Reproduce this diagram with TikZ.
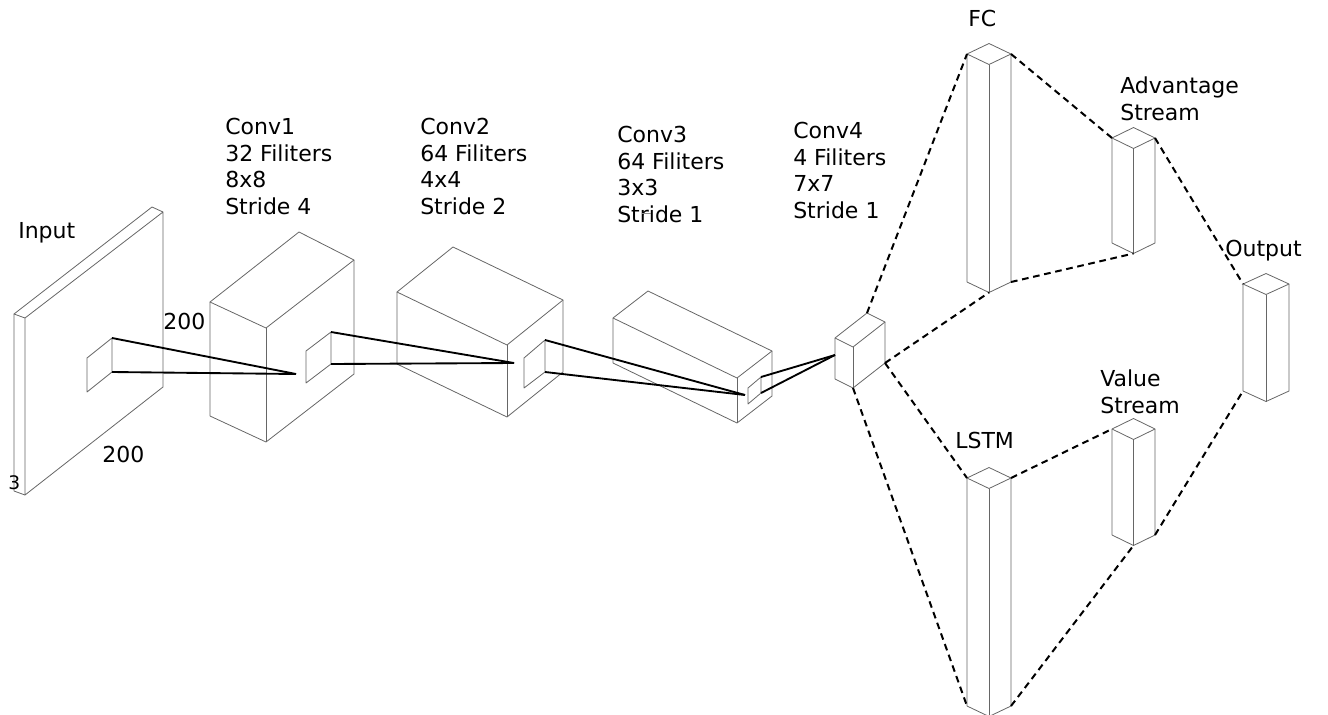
\documentclass[tikz,border=0pt]{standalone}
\usepackage{fontspec}
\setmainfont{DejaVu Sans}
\newcommand{\mycol}[5]{% name, x, y, height, width
  \coordinate (#1-tl) at (#2,#3);
  \coordinate (#1-tb) at ({#2+#5/2},{#3-10.5});
  \coordinate (#1-tr) at ({#2+#5},#3);
  \coordinate (#1-tf) at ({#2+#5/2},{#3+10.5});
  \coordinate (#1-bl) at (#2,{#3+#4});
  \coordinate (#1-bf) at ({#2+#5/2},{#3+#4+10.5});
  \coordinate (#1-br) at ({#2+#5},{#3+#4});
  \draw[box] (#1-tl) -- (#1-tb) -- (#1-tr) -- (#1-tf) -- cycle;
  \draw[box] (#1-tl) -- (#1-bl) -- (#1-bf) -- (#1-br) -- (#1-tr);
  \draw[box] (#1-tf) -- (#1-bf);
}
\begin{document}
\begin{tikzpicture}[x=0.75pt,y=-0.75pt,
  box/.style={draw=black!60, line width=0.6pt, line join=round},
  conn/.style={draw=black, line width=1.4pt},
  dconn/.style={draw=black, line width=1.5pt, dash pattern=on 5pt off 3.5pt},
  lab/.style={anchor=north west, inner sep=0pt, align=left, font=\fontsize{16.5}{20}\selectfont}]
\useasboundingbox (0,0) rectangle (1328,714);

% ---------- Input slab ----------
\coordinate (in-f1) at (25,318);
\coordinate (in-f2) at (163,212);
\coordinate (in-f3) at (163,387);
\coordinate (in-f4) at (25,495);
\coordinate (in-b1) at (14,314);
\coordinate (in-b2) at (152,207);
\coordinate (in-b4) at (14,491);
\draw[box] (in-f1) -- (in-f2) -- (in-f3) -- (in-f4) -- cycle;
\draw[box] (in-f1) -- (in-b1) -- (in-b2) -- (in-f2);
\draw[box] (in-b1) -- (in-b4) -- (in-f4);
% patch on input
\coordinate (p1) at (87,358);
\coordinate (p2) at (112,338);
\coordinate (p3) at (112,372);
\coordinate (p4) at (87,392);
\draw[box] (p1) -- (p2) -- (p3) -- (p4) -- cycle;

% ---------- Conv1 ----------
\coordinate (c1-a) at (210,302);
\coordinate (c1-b) at (266,328);
\coordinate (c1-c) at (354,260);
\coordinate (c1-d) at (299,232);
\coordinate (c1-a2) at (210,416);
\coordinate (c1-b2) at (266,442);
\coordinate (c1-c2) at (354,374);
\draw[box] (c1-a) -- (c1-b) -- (c1-c) -- (c1-d) -- cycle;
\draw[box] (c1-a) -- (c1-a2) -- (c1-b2) -- (c1-c2) -- (c1-c);
\draw[box] (c1-b) -- (c1-b2);
\coordinate (q1) at (306,351);
\coordinate (q2) at (331,332);
\coordinate (q3) at (331,364);
\coordinate (q4) at (306,383);
\draw[box] (q1) -- (q2) -- (q3) -- (q4) -- cycle;
\coordinate (x1) at (296,374);

% ---------- Conv2 ----------
\coordinate (c2-a) at (397,292);
\coordinate (c2-b) at (507,345);
\coordinate (c2-c) at (563,300);
\coordinate (c2-d) at (453,247);
\coordinate (c2-a2) at (397,364);
\coordinate (c2-b2) at (507,417);
\coordinate (c2-c2) at (563,372);
\draw[box] (c2-a) -- (c2-b) -- (c2-c) -- (c2-d) -- cycle;
\draw[box] (c2-a) -- (c2-a2) -- (c2-b2) -- (c2-c2) -- (c2-c);
\draw[box] (c2-b) -- (c2-b2);
\coordinate (r1) at (524,358);
\coordinate (r2) at (545,340);
\coordinate (r3) at (545,372);
\coordinate (r4) at (524,388);
\draw[box] (r1) -- (r2) -- (r3) -- (r4) -- cycle;
\coordinate (x2) at (514,363);

% ---------- Conv3 ----------
\coordinate (c3-a) at (613,318);
\coordinate (c3-b) at (737,378);
\coordinate (c3-c) at (772,351);
\coordinate (c3-d) at (648,291);
\coordinate (c3-a2) at (613,363);
\coordinate (c3-b2) at (737,423);
\coordinate (c3-c2) at (772,396);
\draw[box] (c3-a) -- (c3-b) -- (c3-c) -- (c3-d) -- cycle;
\draw[box] (c3-a) -- (c3-a2) -- (c3-b2) -- (c3-c2) -- (c3-c);
\draw[box] (c3-b) -- (c3-b2);
\coordinate (s1) at (748,388);
\coordinate (s2) at (761,377);
\coordinate (s3) at (761,393);
\coordinate (s4) at (748,404);
\draw[box] (s1) -- (s2) -- (s3) -- (s4) -- cycle;
\coordinate (x3) at (745,395);

% ---------- Conv4 ----------
\coordinate (c4-a) at (835,338);
\coordinate (c4-b) at (853,347);
\coordinate (c4-c) at (885,322);
\coordinate (c4-d) at (867,313);
\coordinate (c4-a2) at (835,379);
\coordinate (c4-b2) at (853,388);
\coordinate (c4-c2) at (885,363);
\draw[box] (c4-a) -- (c4-b) -- (c4-c) -- (c4-d) -- cycle;
\draw[box] (c4-a) -- (c4-a2) -- (c4-b2) -- (c4-c2) -- (c4-c);
\draw[box] (c4-b) -- (c4-b2);
\coordinate (x4) at (835,355);

% ---------- solid connectors ----------
\draw[conn] (p2) -- (x1);
\draw[conn] (p3) -- (x1);
\draw[conn] (q2) -- (x2);
\draw[conn] (q3) -- (x2);
\draw[conn] (r2) -- (x3);
\draw[conn] (r3) -- (x3);
\draw[conn] (s2) -- (x4);
\draw[conn] (s3) -- (x4);

% ---------- columns ----------
\mycol{fc}{967}{54}{228}{44}
\mycol{adv}{1112}{138}{105}{43}
\mycol{lstm}{967}{478}{228}{44}
\mycol{val}{1112}{429}{106}{43}
\mycol{out}{1243}{284}{107}{46}

% ---------- dashed connectors ----------
\draw[dconn] (c4-d) -- (fc-tl);
\draw[dconn] (c4-c2) -- (fc-bf);
\draw[dconn] (c4-c2) -- (lstm-tl);
\draw[dconn] (c4-b2) -- (lstm-bl);
\draw[dconn] (fc-tr) -- (adv-tl);
\draw[dconn] (fc-br) -- (adv-bf);
\draw[dconn] (lstm-tr) -- (val-tl);
\draw[dconn] (lstm-br) -- (val-bf);
\draw[dconn] (adv-tr) -- (out-tl);
\draw[dconn] (val-br) -- (out-bl);

% ---------- labels ----------
\node[lab] (tin) at (18,222) {Input};
\node[lab] (t200a) at (163,313) {200};
\node[lab] (t200b) at (102,446) {200};
\node[lab, font=\fontsize{14}{16}\selectfont] (t3) at (8,475) {3};
\node[lab] (tc1) at (225,118) {Conv1\\32 Filiters\\8x8\\Stride 4};
\node[lab] (tc2) at (420,118) {Conv2\\64 Filiters\\4x4\\Stride 2};
\node[lab] (tc3) at (617,126) {Conv3\\64 Filiters\\3x3\\Stride 1};
\draw[draw=black!45, line width=0.5pt] (642,213) -- (651,213);
\node[lab] (tc4) at (793,122) {Conv4\\4 Filiters\\7x7\\Stride 1};
\node[lab] (tfc) at (968,10) {FC};
\node[lab] (tadv) at (1120,77) {Advantage\\Stream};
\node[lab] (tout) at (1225,240) {Output};
\node[lab] (tlstm) at (955,432) {LSTM};
\node[lab] (tval) at (1100,370) {Value\\Stream};
\end{tikzpicture}
\end{document}
